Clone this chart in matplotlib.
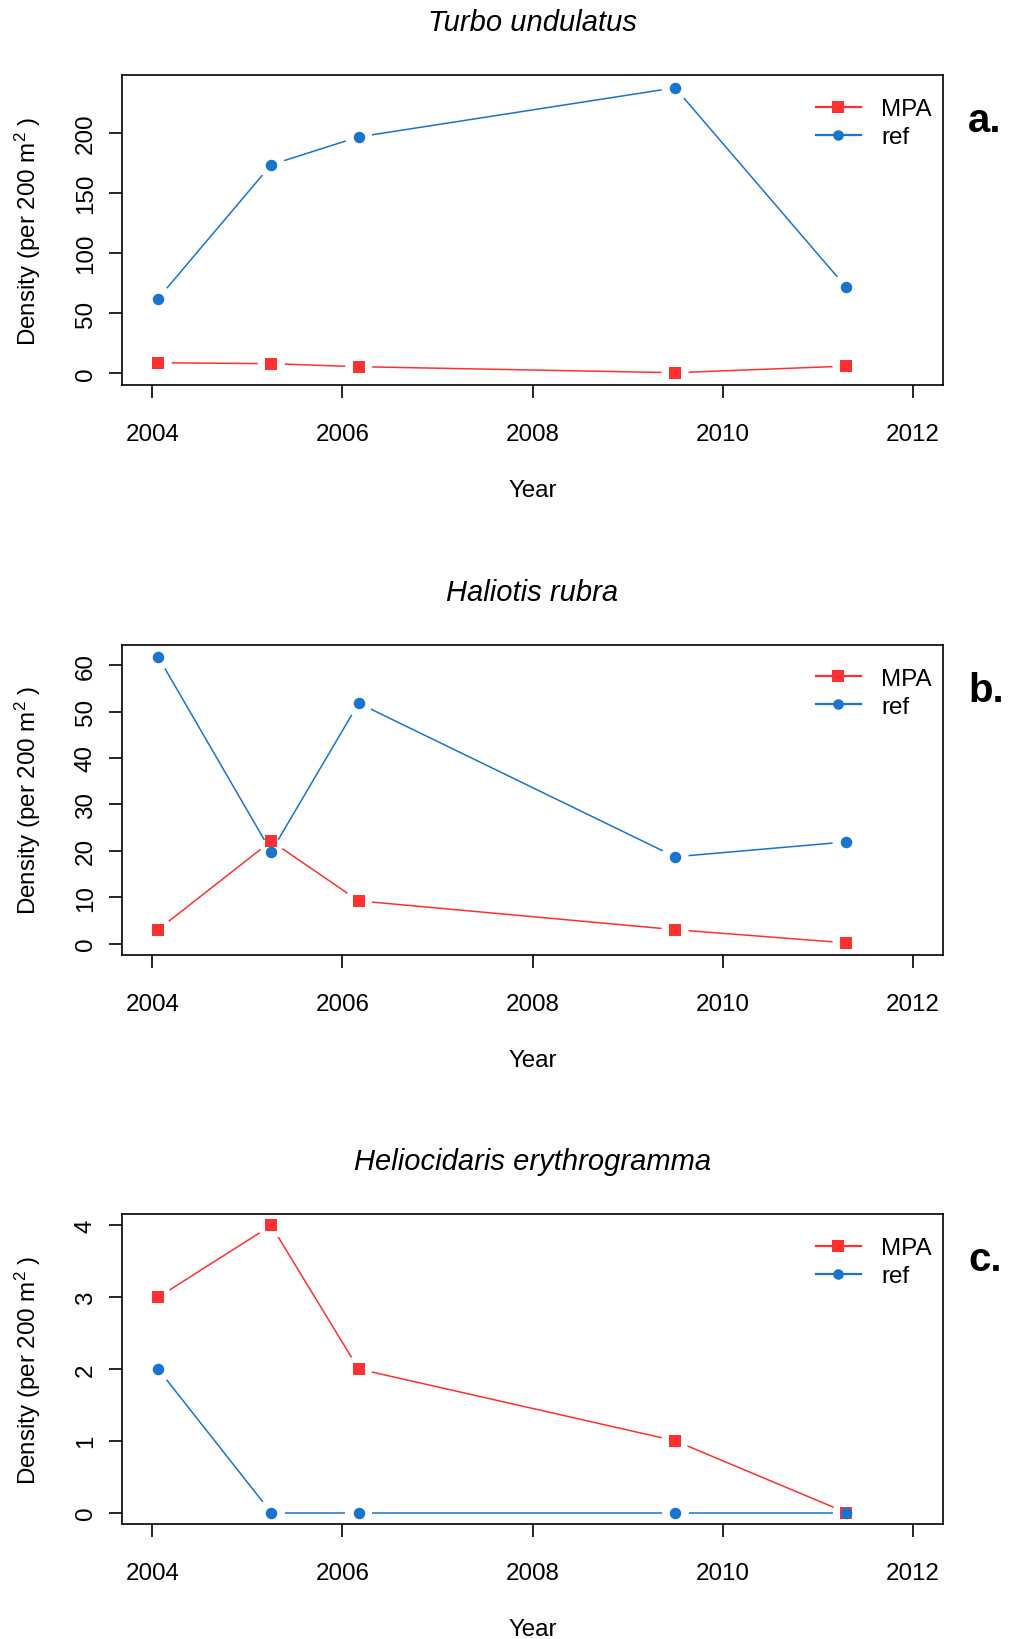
import numpy as np
import matplotlib
matplotlib.use("Agg")
import matplotlib.pyplot as plt
from matplotlib.lines import Line2D

plt.rcParams['font.family'] = ['Liberation Sans', 'DejaVu Sans']
plt.rcParams['mathtext.fontset'] = 'custom'
plt.rcParams['mathtext.rm'] = 'Liberation Sans'
plt.rcParams['mathtext.it'] = 'Liberation Sans:italic'

# ---------------- data ----------------
years = [2004.06, 2005.25, 2006.17, 2009.50, 2011.30]
species = ["Turbo undulatus", "Haliotis rubra", "Heliocidaris erythrogramma"]
panel_labels = ["a.", "b.", "c."]
mpa_turbo = [8.9, 8.1, 5.6, 0.6, 6.1]
ref_turbo = [62.2, 173.3, 196.4, 237.2, 71.7]
mpa_haliotis = [3.0, 22.1, 9.2, 3.0, 0.15]
ref_haliotis = [61.8, 19.8, 51.8, 18.7, 21.9]
mpa_helio = [3.0, 4.0, 2.0, 1.0, 0.0]
ref_helio = [2.0, 0.0, 0.0, 0.0, 0.0]
series_names = ["MPA", "ref"]
xticks = [2004, 2006, 2008, 2010, 2012]
yticks_list = [[0, 50, 100, 150, 200],
               [0, 10, 20, 30, 40, 50, 60],
               [0, 1, 2, 3, 4]]
ylims = [(-9.6, 247.8), (-2.4, 64.4), (-0.16, 4.16)]
xlim = (2003.68, 2012.32)

mpa_all = [mpa_turbo, mpa_haliotis, mpa_helio]
ref_all = [ref_turbo, ref_haliotis, ref_helio]

RED = '#FF3030'
BLUE = '#1874CD'

W, H = 1009, 1640
DPI = 100
fig = plt.figure(figsize=(W / DPI, H / DPI), dpi=DPI)

FS = 17.4
px2pt = 72.0 / DPI

ax_left, ax_right = 122, 943
tops = [76, 645.7, 1215]
ax_h = 310

GAP = 13.5  # px gap between line ends and points (R type="b")
MS = 8.3


def gapped_line(ax, xs, ys, color):
    pts = ax.transData.transform(np.column_stack([xs, ys]))
    inv = ax.transData.inverted()
    for i in range(len(pts) - 1):
        p0, p1 = pts[i], pts[i + 1]
        d = p1 - p0
        L = np.hypot(*d)
        if L <= 2 * GAP:
            continue
        u = d / L
        a = inv.transform(p0 + u * GAP)
        b = inv.transform(p1 - u * GAP)
        ax.plot([a[0], b[0]], [a[1], b[1]], color=color, lw=1.1,
                solid_capstyle='butt', zorder=2)


for k in range(3):
    top = tops[k]
    bottom = top + ax_h
    ax = fig.add_axes([ax_left / W, (H - bottom) / H,
                       (ax_right - ax_left) / W, ax_h / H])
    ax.set_xlim(*xlim)
    ax.set_ylim(*ylims[k])
    ax.set_xticks(xticks)
    ax.set_xticklabels([str(t) for t in xticks])
    ax.set_yticks(yticks_list[k])
    ax.set_yticklabels([str(t) for t in yticks_list[k]])
    for s in ax.spines.values():
        s.set_linewidth(1.2)
    ax.tick_params(axis='both', direction='out', length=9.5, width=1.2,
                   labelsize=FS)
    ax.tick_params(axis='x', pad=18.0)
    ax.tick_params(axis='y', pad=8.5)
    for lab in ax.get_yticklabels():
        lab.set_rotation(90)
        lab.set_va('center')

    mpa = mpa_all[k]
    ref = ref_all[k]
    gapped_line(ax, years, mpa, RED)
    ax.plot(years, mpa, ls='none', marker='s', ms=MS, color=RED,
            mec=RED, mew=0, zorder=3)
    gapped_line(ax, years, ref, BLUE)
    ax.plot(years, ref, ls='none', marker='o', ms=MS, color=BLUE,
            mec=BLUE, mew=0, zorder=3)

    handles = [Line2D([], [], color=RED, lw=1.6, marker='s', ms=MS, mew=0),
               Line2D([], [], color=BLUE, lw=1.6, marker='o', ms=7.6, mew=0)]
    ax.legend(handles, series_names, loc='upper right', frameon=False,
              fontsize=FS, handlelength=1.85, handletextpad=0.85,
              labelspacing=0.25, borderpad=0, borderaxespad=0,
              bbox_to_anchor=((932 - ax_left) / (ax_right - ax_left),
                              1 - 23 / ax_h))

    # title
    ax.annotate(species[k], xy=(0.5, 1), xycoords='axes fraction',
                xytext=(0, 53 * px2pt), textcoords='offset points',
                ha='center', va='center', fontsize=21, style='italic')
    # x label
    ax.annotate('Year', xy=(0.5, 0), xycoords='axes fraction',
                xytext=(0, -105 * px2pt), textcoords='offset points',
                ha='center', va='center', fontsize=FS)
    # y label
    ax.annotate('Density (per 200 m$^{2}$ )', xy=(0, 0.5),
                xycoords='axes fraction',
                xytext=(-(ax_left - 28) * px2pt, 0), textcoords='offset points',
                ha='center', va='center', fontsize=FS, rotation=90)
    # panel label
    fig.text(968 / W, (H - (top + 56.5)) / H, panel_labels[k],
             fontsize=29, fontweight='bold', ha='left', va='baseline')

fig.savefig('out.png', dpi=DPI)
